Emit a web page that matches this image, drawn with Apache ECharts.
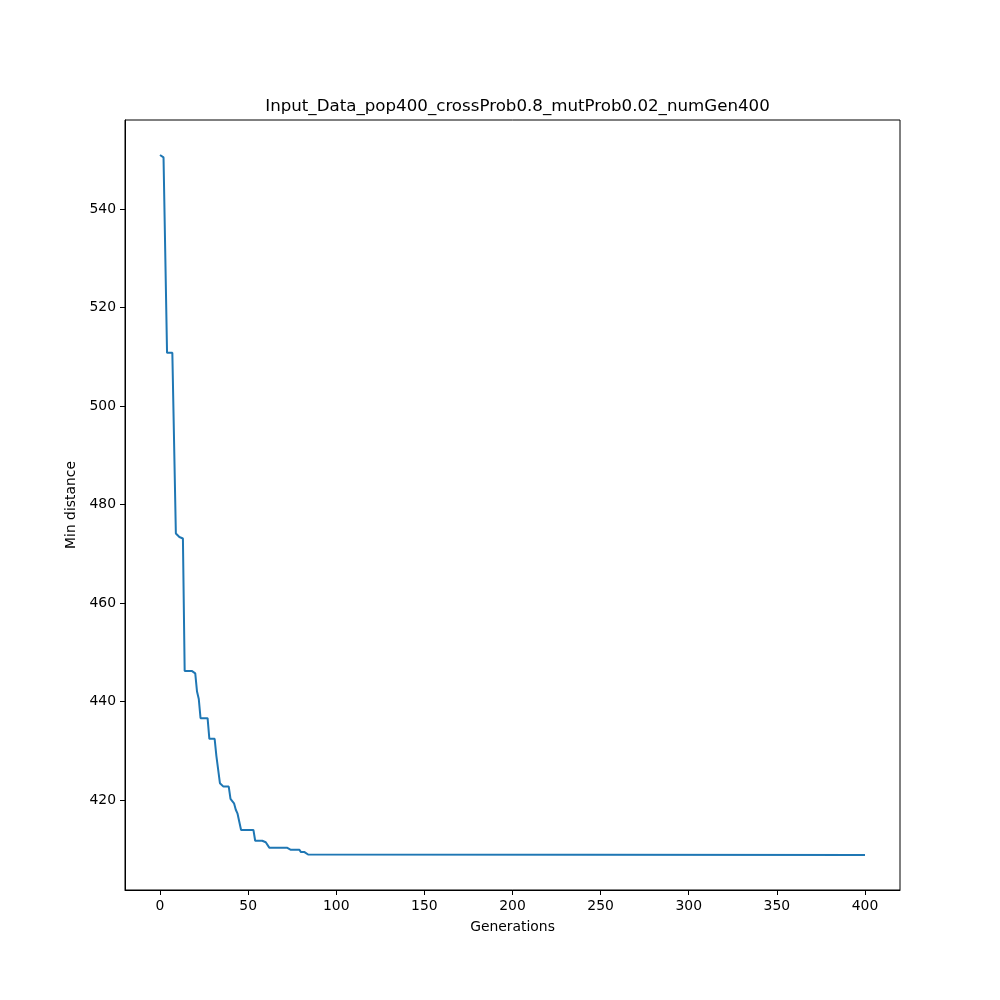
<!DOCTYPE html>
<html>
<head>
<meta charset="utf-8">
<script src="https://cdn.jsdelivr.net/npm/echarts@6/dist/echarts.min.js"></script>
<style>html,body{margin:0;padding:0;background:#fff}#c{width:1000px;height:1000px}</style>
</head>
<body>
<div id="c"></div>
<script>
// generation breakpoints and min distance values (step-like curve)
const generations = [0,1,2,4,7,9,10,11,13,14,18,19,20,21,22,23,27,28,31,32,33,34,35,36,39,40,41,42,43,44,45,46,53,54,58,59,60,61,62,72,73,74,79,80,82,83,84,85,400];
const minDistance = [551.0,551.0,550.5,510.8,510.8,474.1,474.0,473.4,473.1,446.2,446.2,445.8,445.7,442.0,440.5,436.6,436.6,432.4,432.4,428.9,428.8,423.4,423.2,422.7,422.7,420.2,419.8,419.3,418.0,417.2,417.1,413.9,413.9,411.7,411.7,411.5,411.4,411.4,410.3,410.3,410.1,409.9,409.9,409.4,409.4,409.2,408.9,408.8,408.8];
const xTicks = [0,50,100,150,200,250,300,350,400];
const yTicks = [420,440,460,480,500,520,540];
const titleText = 'Input_Data_pop400_crossProb0.8_mutProb0.02_numGen400';

const font = 'DejaVu Sans';
const chart = echarts.init(document.getElementById('c'), null, {renderer:'canvas'});
chart.setOption({
  animation:false,
  backgroundColor:'#fff',
  title:{text:titleText,left:512.5,top:93,textAlign:'center',
    textStyle:{fontFamily:font,fontSize:16.67,fontWeight:'normal',color:'#000'}},
  grid:{left:125,right:100,top:120,bottom:110,show:true,borderColor:'#000',borderWidth:1,backgroundColor:'transparent'},
  xAxis:{type:'value',min:-19.86,max:419.86,name:'Generations',nameLocation:'middle',nameGap:30,
    nameTextStyle:{fontFamily:font,fontSize:13.9,color:'#000'},
    axisLine:{show:true,onZero:false,lineStyle:{color:'#000',width:1}},
    axisTick:{show:true,length:5,inside:false,customValues:xTicks,lineStyle:{color:'#000',width:1}},
    axisLabel:{customValues:xTicks,margin:9,fontFamily:font,fontSize:13.9,color:'#000'},
    splitLine:{show:false}},
  yAxis:{type:'value',min:401.7,max:558.1,name:'Min distance',nameLocation:'middle',nameGap:44,nameRotate:90,
    nameTextStyle:{fontFamily:font,fontSize:13.9,color:'#000'},
    axisLine:{show:true,onZero:false,lineStyle:{color:'#000',width:1}},
    axisTick:{show:true,length:5,inside:false,customValues:yTicks,lineStyle:{color:'#000',width:1}},
    axisLabel:{customValues:yTicks,margin:9,fontFamily:font,fontSize:13.9,color:'#000'},
    splitLine:{show:false}},
  series:[{type:'line',data:generations.map((g,i)=>[g,minDistance[i]]),showSymbol:false,symbol:'none',
    lineStyle:{color:'#1f77b4',width:2},clip:true}]
});
</script>
</body>
</html>
